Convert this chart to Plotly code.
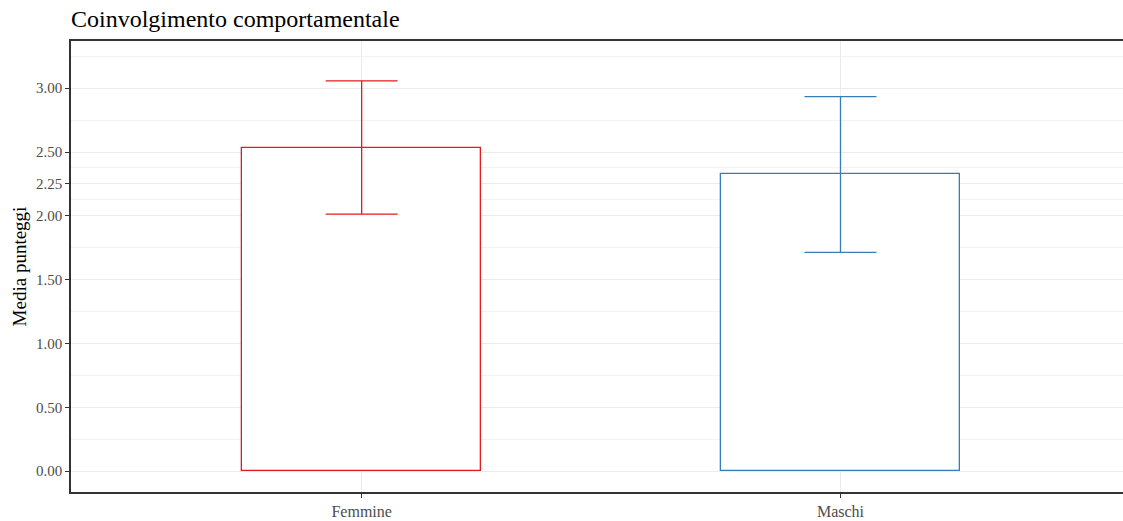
import plotly.graph_objects as go

# Mean scores by gender with standard deviation
gruppi = ["Femmine", "Maschi"]
medie = [2.535, 2.324]
dev_std = [0.522, 0.610]
colori = ["#e41a1c", "#377eb8"]

y_ticks = [0.0, 0.5, 1.0, 1.5, 2.0, 2.25, 2.5, 3.0]
y_minor = [0.25, 0.75, 1.25, 1.75, 2.125, 2.375, 2.75, 3.25]

FONT = "Liberation Serif, Times New Roman, serif"

fig = go.Figure()
for i, g in enumerate(gruppi):
    fig.add_trace(go.Bar(
        x=[i], y=[medie[i]], width=0.5,
        marker=dict(color="white", line=dict(color=colori[i], width=1.3)),
        error_y=dict(type="data", array=[dev_std[i]], visible=True,
                     color=colori[i], thickness=1.3, width=36),
        showlegend=False, hoverinfo="skip",
    ))

fig.update_layout(
    width=1123, height=521,
    margin=dict(l=71, r=0, t=41, b=29),
    paper_bgcolor="white", plot_bgcolor="white",
    font=dict(family=FONT, color="#1a1a1a"),
    title=dict(text="Coinvolgimento comportamentale", x=71 / 1123, xanchor="left",
               y=1 - 19 / 521, yanchor="middle",
               font=dict(family=FONT, size=24, color="black")),
    bargap=0,
)

fig.update_xaxes(
    range=[-0.607, 1.590], tickvals=[0, 1], ticktext=gruppi,
    showgrid=True, gridcolor="#ebebeb", gridwidth=1,
    showline=True, linecolor="#333333", linewidth=1.5, mirror=True,
    ticks="outside", ticklen=4, tickcolor="#333333",
    tickfont=dict(family=FONT, size=16, color="#4d4d4d"), zeroline=False,
)
fig.update_yaxes(
    range=[-0.164, 3.37], tickvals=y_ticks, ticktext=[f"{v:.2f}" for v in y_ticks],
    showgrid=True, gridcolor="#ebebeb", gridwidth=1,
    minor=dict(tickvals=y_minor, showgrid=True, gridcolor="#f2f2f2", gridwidth=1),
    showline=True, linecolor="#333333", linewidth=1.5, mirror=False,
    ticks="outside", ticklen=4, tickcolor="#333333",
    tickfont=dict(family=FONT, size=15, color="#4d4d4d"), zeroline=False,
    title=dict(text="Media punteggi", font=dict(family=FONT, size=19, color="black"),
               standoff=4),
)

fig.write_html("out.html")
